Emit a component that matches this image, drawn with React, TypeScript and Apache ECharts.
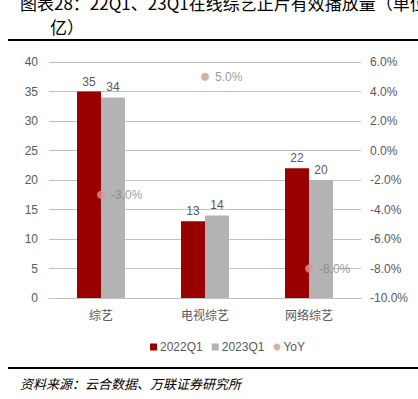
import React, { useEffect, useRef } from "react";
import * as echarts from "echarts";

const categories = ["综艺", "电视综艺", "网络综艺"];
const series2022 = [35, 13, 22];
const series2023 = [34, 14, 20];
const yoy = [-3.0, 5.0, -8.0];
const titleLine1 = "图表28：22Q1、23Q1在线综艺正片有效播放量（单位：";
const titleLine2 = "亿）";
const sourceText = "资料来源：云合数据、万联证券研究所";

const CJK = "'Noto Sans CJK SC', sans-serif";
const LAT = "'Liberation Sans', Arial, 'Noto Sans CJK SC', sans-serif";

export default function App() {
  const ref = useRef<HTMLDivElement>(null);
  useEffect(() => {
    if (!ref.current) return;
    const chart = echarts.init(ref.current, null, { renderer: "svg" });
    chart.setOption({
      animation: false,
      backgroundColor: "#ffffff",
      grid: { left: 49, right: 57, top: 62, bottom: 101, containLabel: false },
      legend: {
        left: 145,
        top: 336,
        itemWidth: 7,
        itemHeight: 7,
        itemGap: 9,
        textStyle: { color: "#595959", fontSize: 12, fontFamily: LAT, padding: [0, 0, 0, -2] },
        data: [
          { name: "2022Q1", icon: "rect" },
          { name: "2023Q1", icon: "rect" },
          { name: "YoY", icon: "circle" },
        ],
      },
      xAxis: {
        type: "category",
        data: categories,
        axisLine: { show: true, lineStyle: { color: "#BFBFBF", width: 1 } },
        axisTick: { show: false },
        axisLabel: { color: "#595959", fontSize: 12, fontFamily: CJK, margin: 10 },
      },
      yAxis: [
        {
          type: "value",
          min: 0,
          max: 40,
          interval: 5,
          axisLine: { show: false },
          axisTick: { show: false },
          axisLabel: { color: "#595959", fontSize: 12, fontFamily: LAT, margin: 11 },
          splitLine: { lineStyle: { color: "#BFBFBF", width: 1 } },
        },
        {
          type: "value",
          min: -10,
          max: 6,
          interval: 2,
          axisLine: { show: false },
          axisTick: { show: false },
          splitLine: { show: false },
          axisLabel: {
            color: "#595959",
            fontSize: 12,
            fontFamily: LAT,
            margin: 9,
            formatter: (v: number) => v.toFixed(1) + "%",
          },
        },
      ],
      series: [
        {
          name: "2022Q1",
          type: "bar",
          data: series2022,
          barWidth: 24,
          barGap: "0%",
          itemStyle: { color: "#990000" },
          label: { show: true, position: "top", color: "#595959", fontSize: 12, fontFamily: LAT, distance: 4 },
        },
        {
          name: "2023Q1",
          type: "bar",
          data: series2023,
          barWidth: 24,
          barGap: "0%",
          itemStyle: { color: "#B3B3B3" },
          label: { show: true, position: "top", color: "#595959", fontSize: 12, fontFamily: LAT, distance: 4 },
        },
        {
          name: "YoY",
          type: "scatter",
          yAxisIndex: 1,
          data: yoy,
          symbol: "circle",
          symbolSize: 8,
          itemStyle: { color: "#D99694" },
          label: {
            show: true,
            position: "right",
            distance: 6,
            color: "#7F7F7F",
            fontSize: 12,
            fontFamily: LAT,
            formatter: (p: any) => (p.value as number).toFixed(1) + "%",
          },
        },
      ],
      graphic: [
        {
          type: "text",
          x: 20,
          y: 2,
          style: { text: titleLine1, fontSize: 17, fontFamily: CJK, fill: "#000000", verticalAlign: "middle", align: "left" },
        },
        {
          type: "text",
          x: 50,
          y: 26,
          style: { text: titleLine2, fontSize: 17, fontFamily: CJK, fill: "#000000", verticalAlign: "middle", align: "left" },
        },
        {
          type: "rect",
          shape: { x: 8, y: 39, width: 410, height: 2 },
          style: { fill: "#000000" },
        },
        {
          type: "rect",
          shape: { x: 8, y: 367, width: 410, height: 2 },
          style: { fill: "#000000" },
        },
        {
          type: "text",
          x: 20,
          y: 383,
          style: { text: sourceText, fontSize: 13, fontStyle: "italic", fontFamily: CJK, fill: "#000000", verticalAlign: "middle", align: "left" },
        },
      ],
    });
    return () => chart.dispose();
  }, []);
  return (
    <div
      ref={ref}
      style={{ position: "fixed", left: 0, top: 0, width: 418, height: 399 }}
    />
  );
}
